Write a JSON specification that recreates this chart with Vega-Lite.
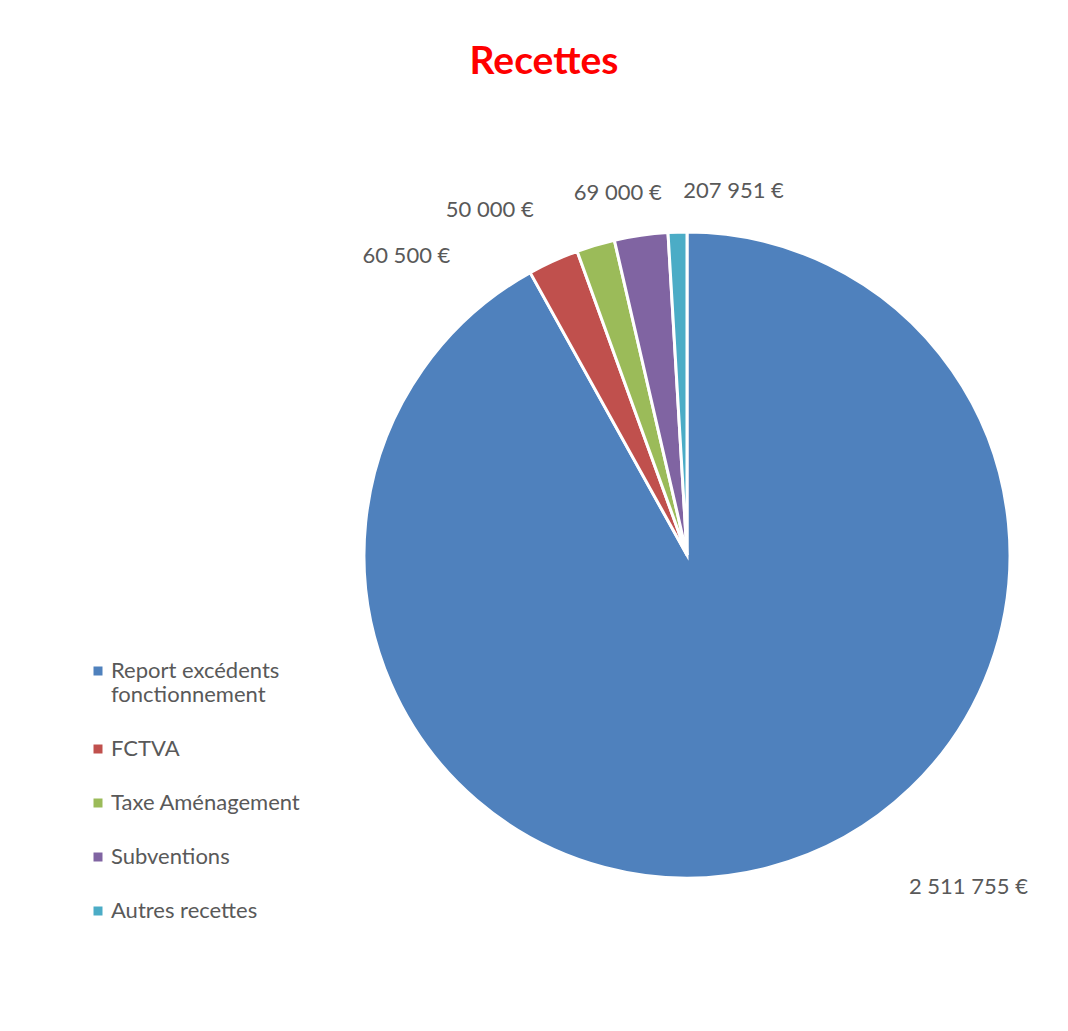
{
  "$schema": "https://vega.github.io/schema/vega-lite/v6.json",
  "autosize": "none",
  "width": 646,
  "height": 646,
  "padding": {"left": 364, "top": 232, "right": 58, "bottom": 153},
  "background": "white",
  "config": {
    "view": {"stroke": null},
    "font": "Lato"
  },
  "title": {
    "text": "Recettes",
    "color": "#FF0000",
    "font": "Lato",
    "fontSize": 39,
    "fontWeight": "bold",
    "anchor": "middle",
    "frame": "group",
    "baseline": "alphabetic",
    "dx": -143,
    "offset": 67
  },
  "data": {
    "values": [
      {"rang": 1, "poste": "Report excédents fonctionnement", "montant": 2511755, "etiquette": "2 511 755 €"},
      {"rang": 2, "poste": "FCTVA", "montant": 69500, "etiquette": "60 500 €"},
      {"rang": 3, "poste": "Taxe Aménagement", "montant": 52300, "etiquette": "50 000 €"},
      {"rang": 4, "poste": "Subventions", "montant": 73000, "etiquette": "69 000 €"},
      {"rang": 5, "poste": "Autres recettes", "montant": 25600, "etiquette": "207 951  €"}
    ]
  },
  "transform": [
    {"stack": "montant", "groupby": [], "sort": [{"field": "rang", "order": "ascending"}], "as": ["debut", "fin"]}
  ],
  "layer": [
    {
      "mark": {"type": "arc", "stroke": "white", "strokeWidth": 3},
      "encoding": {
        "theta": {"field": "fin", "type": "quantitative", "stack": null},
        "theta2": {"field": "debut"},
        "color": {
          "field": "poste",
          "type": "nominal",
          "scale": {
            "domain": ["Report excédents fonctionnement", "FCTVA", "Taxe Aménagement", "Subventions", "Autres recettes"],
            "range": ["#4F81BD", "#C0504D", "#9BBB59", "#8064A2", "#4BACC6"]
          },
          "legend": {
            "title": null,
            "orient": "none",
            "legendX": -277,
            "legendY": 428,
            "symbolType": "square",
            "symbolSize": 81,
            "symbolStrokeWidth": 0,
            "labelFont": "Lato",
            "labelFontSize": 22,
            "labelColor": "#595959",
            "labelOffset": 2,
            "labelLimit": 400,
            "rowPadding": 32,
            "labelExpr": "datum.label == 'Report excédents fonctionnement' ? ['Report excédents', 'fonctionnement'] : datum.label",
            "encode": {"labels": {"lineHeight": {"value": 28}}}
          }
        }
      }
    },
    {
      "transform": [{"filter": "datum.rang == 1"}],
      "mark": {"type": "text", "radius": 435, "thetaOffset": 2.438, "fontSize": 22, "color": "#595959"},
      "encoding": {
        "theta": {"field": "debut", "type": "quantitative", "stack": null},
        "text": {"field": "etiquette"}
      }
    },
    {
      "transform": [{"filter": "datum.rang == 2"}],
      "mark": {"type": "text", "radius": 410, "thetaOffset": -0.247, "fontSize": 22, "color": "#595959"},
      "encoding": {
        "theta": {"field": "debut", "type": "quantitative", "stack": null},
        "text": {"field": "etiquette"}
      }
    },
    {
      "transform": [{"filter": "datum.rang == 3"}],
      "mark": {"type": "text", "radius": 397, "thetaOffset": -0.173, "fontSize": 22, "color": "#595959"},
      "encoding": {
        "theta": {"field": "debut", "type": "quantitative", "stack": null},
        "text": {"field": "etiquette"}
      }
    },
    {
      "transform": [{"filter": "datum.rang == 4"}],
      "mark": {"type": "text", "radius": 369, "thetaOffset": 0.038, "fontSize": 22, "color": "#595959"},
      "encoding": {
        "theta": {"field": "debut", "type": "quantitative", "stack": null},
        "text": {"field": "etiquette"}
      }
    },
    {
      "transform": [{"filter": "datum.rang == 5"}],
      "mark": {"type": "text", "radius": 367, "thetaOffset": 0.186, "fontSize": 22, "color": "#595959"},
      "encoding": {
        "theta": {"field": "debut", "type": "quantitative", "stack": null},
        "text": {"field": "etiquette"}
      }
    }
  ]
}
